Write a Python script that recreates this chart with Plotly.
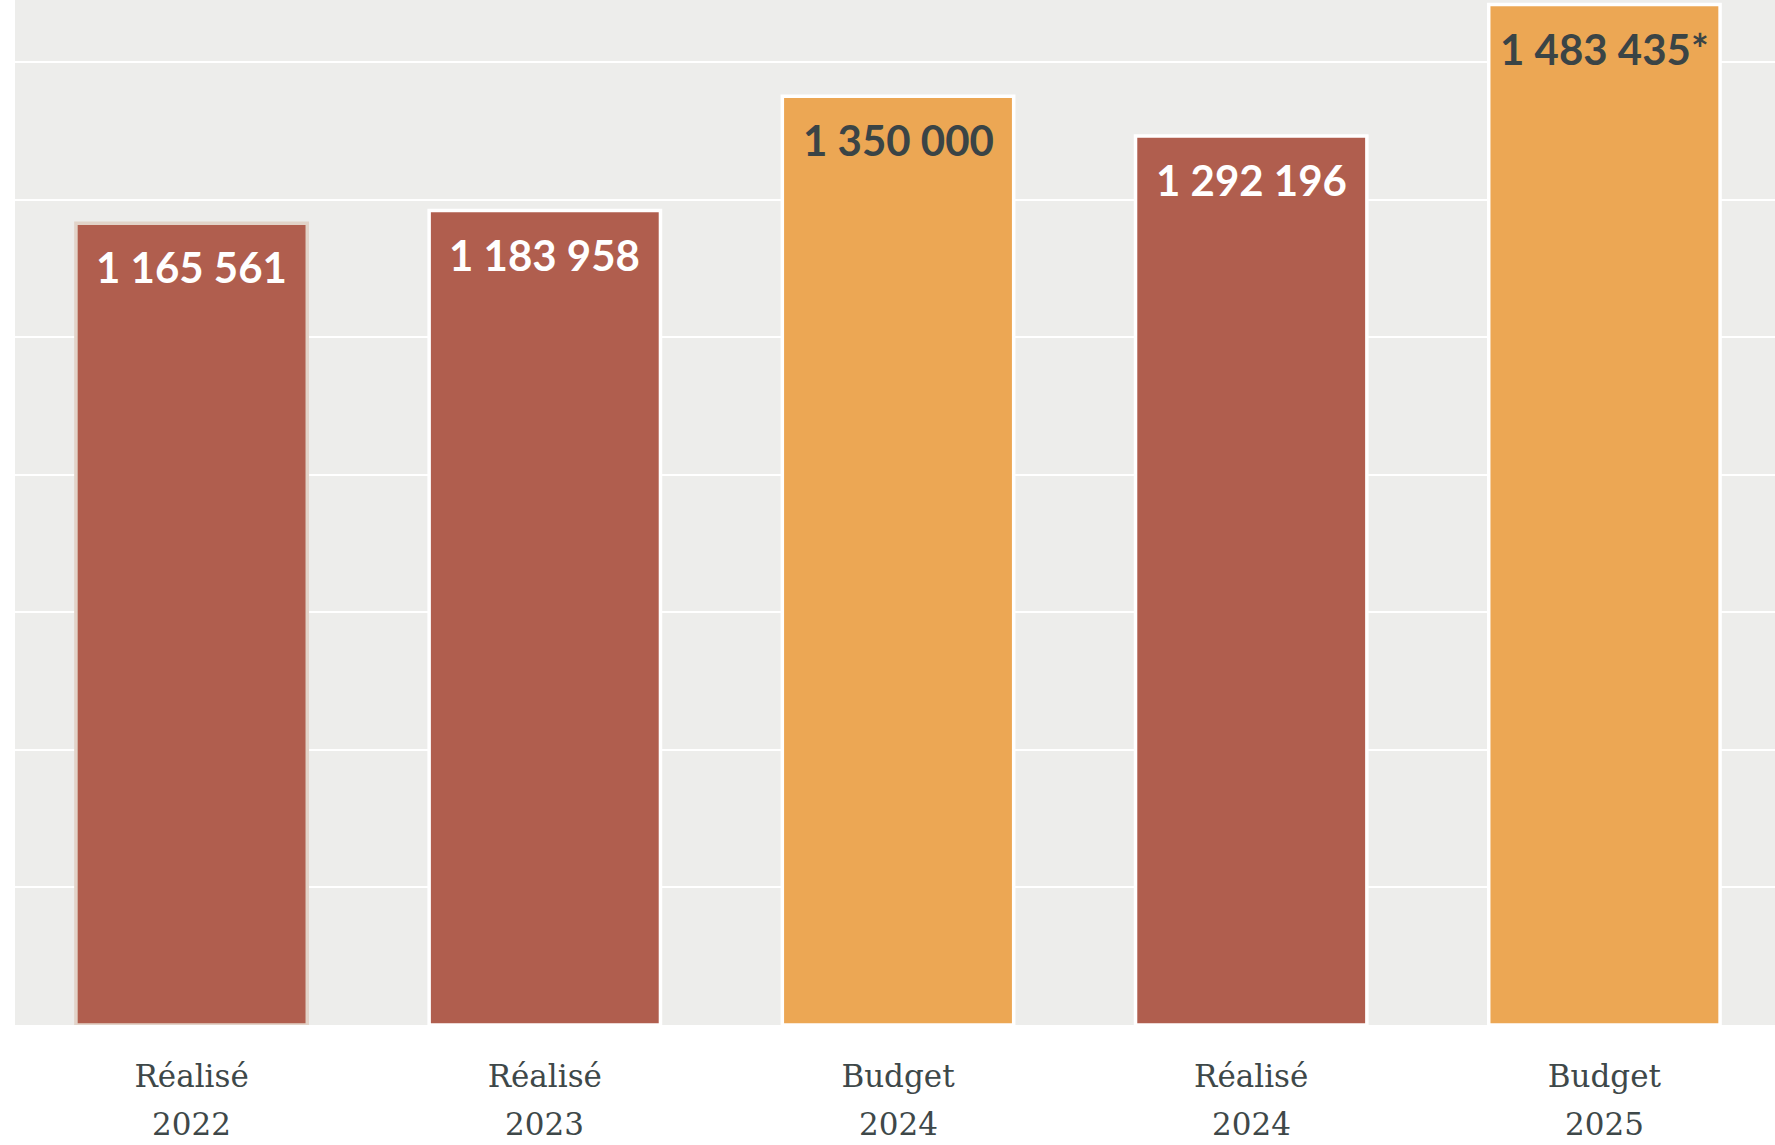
import plotly.graph_objects as go

kinds = ["Réalisé", "Réalisé", "Budget", "Réalisé", "Budget"]
years = ["2022", "2023", "2024", "2024", "2025"]
categories = ["Réalisé 2022", "Réalisé 2023", "Budget 2024", "Réalisé 2024", "Budget 2025"]
values = [1165561, 1183958, 1350000, 1292196, 1483435]
labels = ["1 165 561", "1 183 958", "1 350 000", "1 292 196", "1 483 435*"]

colors = {"Réalisé": "#B05E4E", "Budget": "#ECA754"}
text_colors = {"Réalisé": "#FFFFFF", "Budget": "#3A4446"}
outline = ["#E2D3C8", "white", "white", "white", "white"]

fig = go.Figure()

fig.add_trace(go.Bar(
    x=categories,
    y=values,
    marker_color=[colors[k] for k in kinds],
    marker_line=dict(color=outline, width=3.5),
    hoverinfo="skip",
))

# value labels inside the top of each bar
for cat, val, lab, kind in zip(categories, values, labels, kinds):
    fig.add_annotation(
        x=cat, y=val, text="<b>" + lab + "</b>",
        showarrow=False, yanchor="top", yshift=-17,
        font=dict(family="Lato", size=42, color=text_colors[kind]),
    )

# second line of the category labels (year)
for cat, yr in zip(categories, years):
    fig.add_annotation(
        x=cat, y=0, yref="paper", text=yr,
        showarrow=False, yanchor="middle", yshift=-99,
        font=dict(family="DejaVu Serif", size=31, color="#3E4849"),
    )

fig.update_layout(
    width=1775,
    height=1145,
    margin=dict(l=15, r=0, t=0, b=120),
    plot_bgcolor="#EDEDEB",
    paper_bgcolor="white",
    bargap=0.345,
    showlegend=False,
    xaxis=dict(
        range=[-0.5, 4.483],
        tickvals=categories,
        ticktext=kinds,
        tickfont=dict(family="DejaVu Serif", size=31, color="#3E4849"),
        ticklabelstandoff=30,
        showgrid=False,
    ),
    yaxis=dict(
        range=[0, 1490000],
        dtick=200000,
        showticklabels=False,
        gridcolor="white",
        gridwidth=2,
        zeroline=False,
    ),
)

fig.write_html("out.html", config={"displayModeBar": False},
               post_script="document.body.style.margin='0';")
